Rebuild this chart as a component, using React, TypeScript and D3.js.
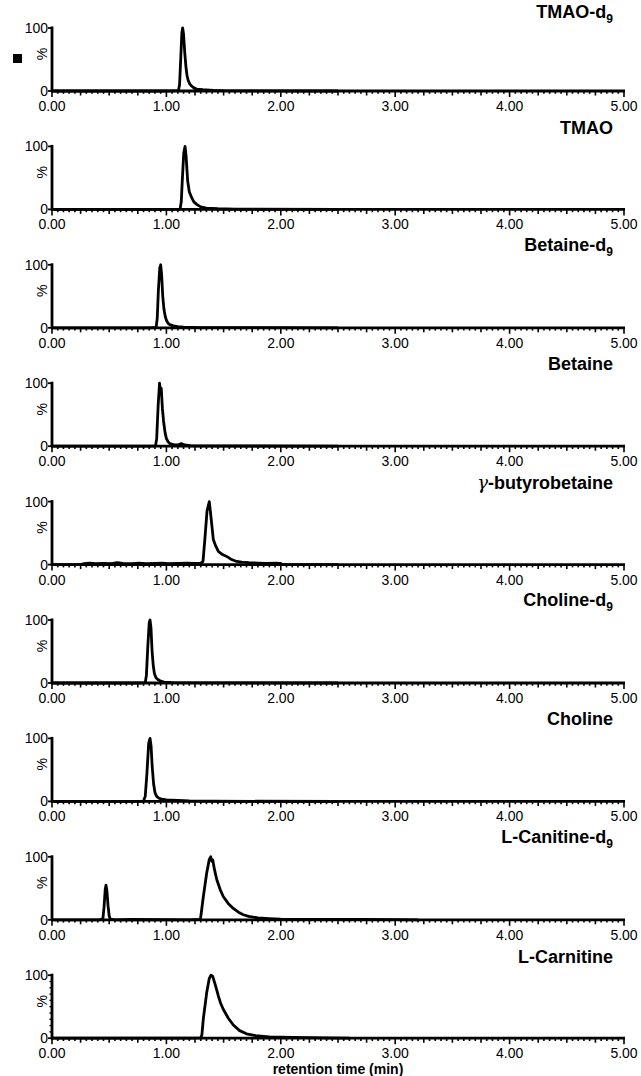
import React from 'react';
import * as d3 from 'd3';

// ---------- data ----------
const panelTitles = ['TMAO-d', 'TMAO', 'Betaine-d', 'Betaine', '-butyrobetaine', 'Choline-d', 'Choline', 'L-Canitine-d', 'L-Carnitine'];
const panelGreekPrefix = ['', '', '', '', 'γ', '', '', '', ''];
const panelSubscripts = ['9', '', '9', '', '', '9', '', '9', ''];
const xTickLabels = ['0.00', '1.00', '2.00', '3.00', '4.00', '5.00'];
const yTickLabels = ['0', '100'];
const yAxisLabel = '%';
const xAxisTitle = 'retention time (min)';

type Pt = [number, number];

const tmaoD9: Pt[] = [[0, 0], [1.0, 0], [1.105, 0.5], [1.115, 10], [1.125, 50], [1.135, 92], [1.142, 100], [1.15, 90], [1.16, 62], [1.171, 38], [1.18, 25], [1.19, 17], [1.205, 11], [1.22, 8], [1.24, 5], [1.265, 3], [1.32, 2], [1.41, 1], [1.5, 0.5], [1.8, 0.3], [2.5, 0]];
const tmao: Pt[] = [[0, 0], [1.0, 0], [1.12, 0.5], [1.13, 12], [1.14, 50], [1.152, 90], [1.163, 100], [1.172, 85], [1.186, 45], [1.2, 28], [1.22, 19], [1.24, 12], [1.265, 8], [1.3, 4], [1.35, 2], [1.45, 1], [1.6, 0.5], [2.5, 0]];
const betaineD9: Pt[] = [[0, 0], [0.85, 0], [0.91, 0.5], [0.92, 15], [0.93, 60], [0.942, 95], [0.95, 100], [0.958, 85], [0.968, 50], [0.979, 29], [0.99, 18], [1.0, 12], [1.015, 7], [1.03, 5], [1.06, 3], [1.1, 2], [1.15, 1], [1.3, 0.3], [2.5, 0]];
const betaine: Pt[] = [[0, 0], [0.85, 0], [0.905, 0.5], [0.915, 12], [0.928, 65], [0.94, 100], [0.948, 88], [0.955, 92], [0.965, 60], [0.975, 40], [0.988, 22], [1.0, 12], [1.015, 7], [1.03, 4], [1.07, 2], [1.1, 2], [1.13, 4], [1.16, 2], [1.22, 0.5], [2.5, 0]];
const gammaButyrobetaine: Pt[] = [[0, 0], [0.25, 0], [0.28, 1.5], [0.33, 2.5], [0.38, 1.5], [0.45, 2], [0.52, 1.5], [0.57, 3], [0.62, 2], [0.7, 1.5], [0.76, 2.5], [0.82, 1.5], [0.9, 2], [0.96, 2.5], [1.02, 1.5], [1.1, 2], [1.18, 2.5], [1.25, 2], [1.3, 2], [1.32, 5], [1.337, 42], [1.355, 85], [1.375, 100], [1.39, 75], [1.41, 40], [1.43, 30], [1.454, 21], [1.49, 16], [1.527, 13], [1.57, 8], [1.614, 5], [1.66, 4], [1.72, 3], [1.8, 2.5], [1.88, 2], [1.95, 2.5], [2.0, 2], [2.01, 0], [2.5, 0]];
const cholineD9: Pt[] = [[0, 0], [0.75, 0], [0.815, 0.5], [0.825, 12], [0.838, 60], [0.85, 96], [0.857, 100], [0.865, 88], [0.875, 50], [0.885, 28], [0.895, 15], [0.91, 8], [0.93, 5], [0.95, 3], [0.98, 1.5], [1.05, 0.5], [2.5, 0]];
const choline: Pt[] = [[0, 0], [0.75, 0], [0.8, 0.5], [0.815, 8], [0.83, 45], [0.845, 92], [0.857, 100], [0.866, 88], [0.876, 55], [0.888, 28], [0.9, 14], [0.915, 8], [0.935, 5], [0.96, 3.5], [1.0, 2.5], [1.05, 2], [1.1, 1.5], [1.2, 0.8], [1.4, 0.3], [2.5, 0]];
const lCarnitineD9: Pt[] = [[0, 0], [0.42, 0], [0.445, 2], [0.455, 20], [0.465, 48], [0.472, 55], [0.48, 46], [0.49, 22], [0.5, 6], [0.51, 1], [0.55, 0], [0.7, 0.5], [1.2, 0], [1.29, 0.5], [1.3, 4], [1.323, 37], [1.352, 74], [1.375, 96], [1.387, 100], [1.397, 93], [1.405, 95], [1.42, 80], [1.44, 64], [1.47, 48], [1.497, 37], [1.54, 26], [1.585, 18], [1.63, 12], [1.672, 8], [1.72, 5.5], [1.8, 3], [1.9, 2], [2.0, 1.2], [2.3, 0.8], [2.7, 0.5], [3.0, 0.3], [3.2, 0]];
const lCarnitine: Pt[] = [[0, 0], [1.2, 0], [1.3, 0.5], [1.31, 5], [1.323, 31], [1.352, 72], [1.375, 95], [1.39, 100], [1.405, 98], [1.43, 83], [1.454, 67], [1.475, 55], [1.497, 46], [1.54, 32], [1.585, 21], [1.64, 12], [1.7, 7], [1.78, 4], [1.9, 2], [2.1, 1.2], [2.4, 0.6], [2.6, 0]];

const traces: Pt[][] = [tmaoD9, tmao, betaineD9, betaine, gammaButyrobetaine, cholineD9, choline, lCarnitineD9, lCarnitine];

// ---------- layout ----------
const W = 641;
const H = 1076;
const X0 = 52;
const X1 = 624;
const BASE0 = 91;
const STEP = 118.4;
const PLOT_H = 63;
const TITLE_RIGHT = 613;
const titleRise = [73, 75, 77, 76, 76, 77, 76, 77, 75];
const FONT = '"Liberation Sans", Arial, Helvetica, sans-serif';

const x = d3.scaleLinear().domain([0, 5]).range([X0, X1]);
const minorTicks = d3.range(0, 101).map((i) => i * 0.05);

function Panel({ idx }: { idx: number }) {
  const base = BASE0 + idx * STEP;
  const y = d3.scaleLinear().domain([0, 100]).range([base, base - PLOT_H]);
  const line = d3
    .line<Pt>()
    .x((d) => x(d[0]))
    .y((d) => y(d[1]));
  const isLast = idx === traces.length - 1;
  return (
    <g>
      {/* title */}
      <text
        x={TITLE_RIGHT}
        y={base - titleRise[idx]}
        textAnchor="end"
        fontFamily={FONT}
        fontWeight="bold"
        fontSize={18}
        fill="#000"
      >
        {panelGreekPrefix[idx] ? (
          <tspan fontFamily='"DejaVu Serif", "Liberation Serif", serif' fontStyle="italic" fontWeight="normal">
            {panelGreekPrefix[idx]}
          </tspan>
        ) : null}
        {panelTitles[idx]}
        {panelSubscripts[idx] ? (
          <tspan fontSize={12} dy={5}>
            {panelSubscripts[idx]}
          </tspan>
        ) : null}
      </text>

      {/* trace */}
      <path d={line(traces[idx]) || ''} fill="none" stroke="#000" strokeWidth={2.8} strokeLinejoin="round" />

      {/* x axis */}
      <line x1={X0 - 1} x2={X1 + 1} y1={base} y2={base} stroke="#000" strokeWidth={2.8} />
      {minorTicks.map((t, i) => {
        const len = i % 20 === 0 ? 6 : i % 5 === 0 ? 4.5 : 2.8;
        return <line key={i} x1={x(t)} x2={x(t)} y1={base} y2={base + len} stroke="#000" strokeWidth={1.6} />;
      })}
      {xTickLabels.map((lab, i) => (
        <text key={lab} x={x(i)} y={base + 20} textAnchor="middle" fontFamily={FONT} fontSize={14} fill="#000">
          {lab}
        </text>
      ))}

      {/* y axis */}
      <line x1={X0} x2={X0} y1={y(100) - 1.5} y2={base + 1} stroke="#000" strokeWidth={2.8} />
      {[0, 100].map((v) => (
        <line key={v} x1={X0 - 4} x2={X0} y1={y(v)} y2={y(v)} stroke="#000" strokeWidth={1.8} />
      ))}
      {isLast
        ? d3.range(10, 100, 10).map((v) => (
            <line key={'m' + v} x1={X0 - 2.5} x2={X0} y1={y(v)} y2={y(v)} stroke="#000" strokeWidth={1.4} />
          ))
        : null}
      {yTickLabels.map((lab) => (
        <text key={lab} x={X0 - 4} y={y(+lab)} dy="0.36em" textAnchor="end" fontFamily={FONT} fontSize={14} fill="#000">
          {lab}
        </text>
      ))}
      <text
        transform={`translate(${X0 - 5},${base - 37}) rotate(-90)`}
        textAnchor="middle"
        fontFamily={FONT}
        fontSize={14}
        fill="#000"
      >
        {yAxisLabel}
      </text>
    </g>
  );
}

export default function App() {
  const lastBase = BASE0 + (traces.length - 1) * STEP;
  return (
    <svg
      width={W}
      height={H}
      viewBox={`0 0 ${W} ${H}`}
      style={{ position: 'absolute', left: 0, top: 0, background: '#fff' }}
    >
      <rect x={0} y={0} width={W} height={H} fill="#fff" />
      <rect x={13} y={54} width={9} height={9} fill="#000" />
      {traces.map((_, i) => (
        <Panel key={i} idx={i} />
      ))}
      <text
        x={x(2.5)}
        y={lastBase + 36}
        textAnchor="middle"
        fontFamily={FONT}
        fontWeight="bold"
        fontSize={14}
        fill="#000"
      >
        {xAxisTitle}
      </text>
    </svg>
  );
}
